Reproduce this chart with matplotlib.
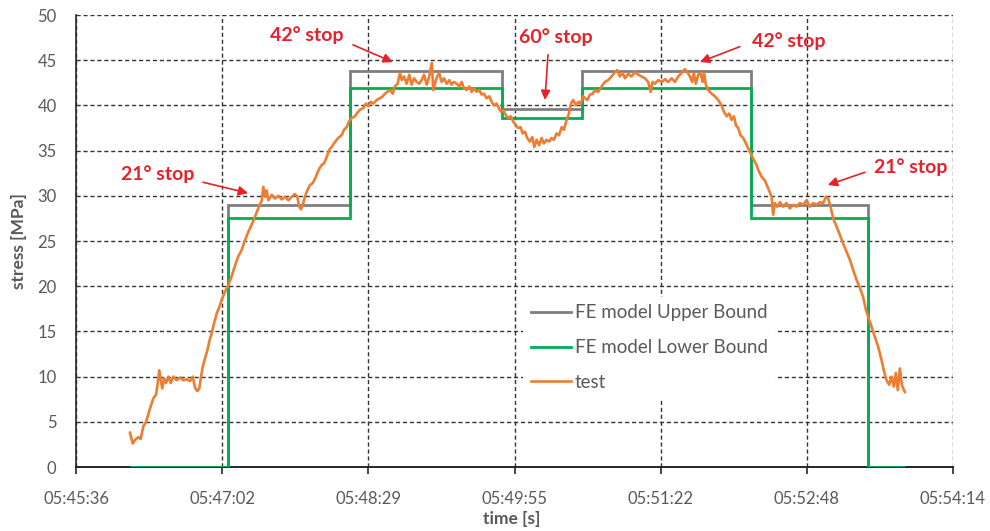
import matplotlib
matplotlib.use("Agg")
import matplotlib.pyplot as plt

plt.rcParams["font.family"] = ["Lato", "DejaVu Sans"]

# Time axis: seconds after 05:45:36, ticks every 0.001 day (86.4 s)
tick_secs = [0, 86.4, 172.8, 259.2, 345.6, 432.0, 518.4]
tick_labels = ["05:45:36", "05:47:02", "05:48:29", "05:49:55",
               "05:51:22", "05:52:48", "05:54:14"]

# FE model bounds (step edges in seconds, stress levels in MPa)
bound_edges = [32, 90, 162, 252, 299, 399, 468, 490]
upper_bound = [0, 29.0, 43.8, 39.6, 43.8, 29.0, 0]
lower_bound = [0, 27.5, 41.9, 38.6, 41.9, 27.5, 0]

# Measured stress
test_t = [
    31.9, 33.5, 34.9, 36.8, 38.2, 39.8, 41.4, 42.7, 44.1, 45.7,
    47.3, 48.3, 49.2, 50.1, 51.0, 52.0, 53.2, 54.6, 56.0, 57.5,
    59.5, 61.5, 63.4, 65.4, 67.4, 69.0, 70.3, 71.7, 72.9, 73.9,
    74.9, 76.2, 77.6, 78.8, 80.2, 81.6, 83.2, 84.7, 86.1, 88.1,
    90.0, 92.0, 94.0, 95.9, 97.9, 99.9, 101.8, 103.8, 105.8, 107.7,
    109.8, 110.7, 111.7, 112.7, 113.7, 115.7, 117.6, 119.6, 121.6, 123.5,
    125.5, 127.5, 129.4, 130.8, 132.0, 133.0, 134.3, 135.3, 136.7, 138.3,
    139.9, 141.3, 142.6, 143.8, 145.2, 146.6, 148.2, 149.7, 151.1, 152.5,
    154.1, 155.6, 157.0, 158.4, 160.0, 161.3, 162.9, 164.9, 166.3, 167.8,
    169.8, 171.4, 172.8, 174.2, 175.7, 177.7, 179.7, 181.3, 182.6, 184.0,
    185.6, 187.2, 188.5, 190.1, 191.5, 192.5, 193.9, 195.4, 197.0, 198.4,
    199.8, 201.4, 202.9, 204.3, 205.7, 207.3, 208.8, 210.3, 211.2, 212.4,
    213.5, 214.7, 216.1, 217.5, 219.1, 220.6, 222.0, 223.4, 225.0, 226.5,
    228.0, 229.3, 230.9, 232.4, 233.9, 235.2, 236.8, 238.4, 239.8, 241.1,
    242.7, 244.3, 245.7, 247.0, 248.6, 250.0, 251.2, 252.5, 254.1, 255.5,
    256.9, 258.5, 260.0, 261.4, 262.8, 264.0, 265.4, 266.7, 268.3, 269.7,
    270.9, 272.3, 273.8, 275.2, 276.6, 278.2, 279.7, 281.1, 282.5, 284.1,
    285.5, 287.1, 288.4, 290.0, 291.4, 292.6, 293.9, 295.5, 296.9, 298.3,
    299.8, 300.8, 302.2, 303.8, 305.4, 306.7, 308.7, 310.7, 312.6, 314.6,
    316.6, 318.6, 319.9, 321.5, 323.1, 324.5, 326.4, 328.4, 330.4, 332.3,
    334.3, 336.3, 338.2, 339.7, 340.8, 342.2, 344.2, 346.2, 348.1, 350.1,
    352.1, 354.0, 356.0, 358.0, 359.9, 361.3, 362.9, 364.2, 365.2, 366.4,
    367.8, 369.2, 370.4, 371.3, 372.3, 373.7, 375.7, 377.7, 379.6, 381.6,
    383.0, 384.6, 386.1, 387.5, 388.9, 390.1, 391.4, 392.8, 394.4, 396.0,
    397.3, 398.8, 400.3, 402.3, 403.2, 405.3, 407.2, 409.2, 411.2, 412.1,
    413.1, 414.5, 416.1, 418.0, 420.0, 422.0, 423.9, 425.9, 427.9, 429.8,
    431.8, 433.8, 435.8, 437.8, 439.7, 441.7, 443.3, 444.6, 446.0, 447.6,
    449.6, 451.5, 453.5, 455.5, 457.5, 459.4, 461.4, 463.4, 465.3, 466.9,
    468.3, 470.3, 472.2, 474.2, 476.2, 477.5, 479.1, 480.7, 482.1, 483.4,
    484.6, 485.8, 487.0, 488.2, 489.4, 490.0,
]
test_s = [
    3.8, 2.6, 3.0, 3.3, 3.1, 4.5, 5.0, 5.8, 6.7, 7.6,
    8.0, 9.3, 10.7, 9.6, 8.7, 9.8, 9.3, 10.0, 9.3, 10.0,
    9.6, 9.9, 9.6, 9.7, 9.5, 10.0, 8.8, 8.4, 8.7, 10.0,
    11.1, 12.0, 12.9, 13.9, 14.8, 15.9, 17.0, 17.7, 18.5, 19.4,
    20.1, 21.1, 22.3, 23.3, 24.0, 25.1, 26.0, 26.8, 27.7, 28.6,
    29.5, 31.0, 29.9, 30.6, 29.5, 30.1, 29.7, 30.0, 29.6, 29.9,
    29.5, 29.9, 30.2, 29.9, 28.8, 28.5, 29.2, 29.9, 30.6, 31.2,
    31.4, 31.9, 32.5, 33.0, 33.4, 33.6, 34.3, 35.1, 35.4, 35.8,
    36.2, 36.5, 36.7, 37.3, 37.6, 38.2, 38.6, 38.8, 39.2, 39.5,
    39.7, 40.2, 39.9, 40.4, 40.2, 40.6, 40.8, 41.0, 41.3, 41.5,
    41.7, 41.3, 42.1, 42.4, 43.6, 42.8, 43.2, 42.4, 43.4, 42.3,
    43.0, 42.6, 42.4, 42.8, 43.4, 42.3, 43.2, 44.7, 41.7, 42.6,
    43.2, 43.6, 42.6, 43.0, 42.4, 42.8, 42.3, 42.6, 42.4, 42.1,
    42.6, 41.9, 41.7, 42.1, 41.5, 41.9, 41.5, 41.7, 41.2, 41.3,
    40.8, 41.0, 40.4, 40.0, 40.2, 39.7, 39.3, 39.5, 38.9, 38.6,
    38.8, 38.2, 37.8, 37.5, 37.6, 36.9, 37.1, 36.4, 36.0, 36.5,
    35.4, 36.2, 35.6, 36.4, 35.8, 36.2, 36.0, 36.4, 36.2, 36.9,
    36.7, 37.6, 37.3, 38.4, 39.1, 40.2, 40.6, 40.0, 40.4, 40.2,
    41.0, 40.8, 40.6, 41.2, 41.3, 41.7, 41.5, 42.1, 42.6, 42.8,
    43.2, 43.7, 43.9, 43.2, 43.6, 43.0, 43.5, 43.2, 43.7, 43.4,
    43.2, 43.0, 42.6, 41.5, 42.6, 42.4, 42.8, 42.6, 42.9, 42.6,
    43.0, 42.6, 43.2, 43.6, 44.0, 43.7, 43.2, 42.6, 43.6, 42.4,
    43.4, 43.6, 42.6, 43.6, 42.3, 41.7, 41.3, 41.0, 40.6, 40.0,
    39.3, 38.8, 39.1, 38.4, 38.8, 37.8, 37.5, 36.7, 36.4, 35.8,
    35.3, 34.7, 34.1, 33.4, 32.9, 32.1, 31.7, 30.8, 29.9, 27.9,
    29.2, 28.8, 29.3, 28.8, 29.2, 28.6, 29.0, 28.8, 29.2, 29.0,
    29.5, 28.8, 29.2, 29.0, 29.3, 29.2, 29.9, 29.7, 28.8, 27.5,
    26.6, 25.7, 24.7, 23.8, 22.9, 21.8, 20.7, 19.8, 18.8, 17.4,
    16.6, 15.5, 14.4, 13.3, 11.8, 10.7, 9.6, 9.1, 10.0, 8.9,
    10.4, 8.5, 10.9, 9.1, 8.5, 8.3,
]

# Angle stop callouts: label, text position, arrow tail, arrow head
stops = [
    ("21° stop", (48.5, 32.4), (75.1, 31.5), (101.7, 30.3)),
    ("42° stop", (136.5, 47.8), (163.7, 46.7), (187.3, 44.8)),
    ("60° stop", (283.7, 47.6), (279.0, 45.6), (277.2, 40.6)),
    ("42° stop", (421.4, 47.1), (392.4, 46.5), (368.8, 44.8)),
    ("21° stop", (493.5, 33.2), (466.3, 32.6), (444.4, 31.2)),
]

text_grey = "#595959"

fig = plt.figure(figsize=(9.9, 5.31), dpi=100)
ax = fig.add_axes([0.0768, 0.1205, 0.8858, 0.8512])

ax.stairs(upper_bound, bound_edges, color="#7F7F7F", lw=2,
          label="FE model Upper Bound", baseline=None, zorder=3)
ax.stairs(lower_bound, bound_edges, color="#00B050", lw=2,
          label="FE model Lower Bound", baseline=None, zorder=4)
ax.plot(test_t, test_s, color="#ED7D31", lw=1.9, label="test", zorder=5)

ax.set_xlim(tick_secs[0], tick_secs[-1])
ax.set_ylim(0, 50)
ax.set_xticks(tick_secs)
ax.set_xticklabels(tick_labels)
ax.set_yticks(range(0, 51, 5))

ax.grid(True, linestyle=(0, (3, 2)), color="#333333", lw=1.0)
ax.set_axisbelow(True)
for side in ["top", "right"]:
    ax.spines[side].set_visible(False)
ax.spines["left"].set_color("#262626")
ax.spines["bottom"].set_color("#262626")
ax.spines["bottom"].set_linewidth(1.4)
ax.spines["left"].set_linewidth(1.2)

ax.tick_params(axis="x", length=5, width=1.2, color="#262626", pad=12,
               labelsize=12, labelcolor=text_grey)
ax.tick_params(axis="y", length=0, pad=14, labelsize=12, labelcolor=text_grey)

ax.set_xlabel("time [s]", fontsize=12.5, fontweight="bold", color=text_grey)
ax.set_ylabel("stress [MPa]", fontsize=12.5, fontweight="bold", color=text_grey)
ax.xaxis.set_label_coords(0.497, -0.097)
ax.yaxis.set_label_coords(-0.056, 0.5)

for label, txt, tail, head in stops:
    ax.text(txt[0], txt[1], label, color="#E8202A", fontsize=14,
            fontweight="bold", ha="center", va="center")
    ax.annotate("", xy=head, xytext=tail,
                arrowprops=dict(arrowstyle="-|>", color="#E8202A", lw=1.2,
                                mutation_scale=14, shrinkA=0, shrinkB=0))

leg = ax.legend(loc="center left", bbox_to_anchor=(0.51, 0.264),
                frameon=True, fancybox=False, edgecolor="none",
                facecolor="white", framealpha=1, fontsize=13.5,
                handlelength=2.15, handletextpad=0.2, labelspacing=0.95,
                borderaxespad=0)
for t in leg.get_texts():
    t.set_color(text_grey)

fig.savefig("out.png", dpi=100)
